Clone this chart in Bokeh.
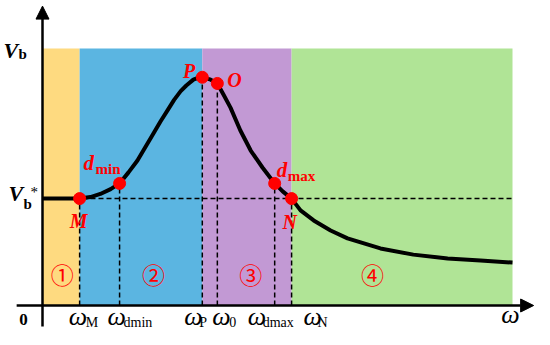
from bokeh.plotting import figure
from bokeh.models import Range1d, Arrow, NormalHead
from bokeh.core.properties import value
from bokeh.embed import file_html
from bokeh.resources import INLINE

# ---------------- data ----------------
curve_w = [0, 7.9, 10.2, 12.3, 14.5, 16.4, 18.3, 20.2, 21.9, 23.6, 25.1, 26.6, 28.0,
           29.4, 30.6, 32.1, 33.2, 34.0, 35.6, 37.2, 38.5, 40.0, 42.1, 44.3, 46.8,
           49.4, 51.1, 53.0, 54.9, 57.7, 61.3, 64.9, 71.9, 78.9, 86.2, 93.2, 100]
curve_v = [41.6, 41.6, 42.2, 43.4, 45.3, 47.5, 51.8, 56.4, 61.7, 66.9, 71.6, 75.9, 80.0,
           83.4, 85.6, 87.9, 88.7, 88.8, 88.0, 86.4, 82.1, 77.0, 68.1, 60.3, 53.7,
           47.5, 44.4, 41.6, 37.0, 33.1, 29.2, 26.1, 22.2, 19.8, 18.3, 17.5, 16.7]

vb_star = 41.6
vb_top = 100
w_end = 100

omega_subs = ["M", "dmin", "P", "0", "dmax", "N"]
omega_vals = [7.9, 16.4, 34.0, 37.2, 49.4, 53.0]

point_names = ["M", "dmin", "P", "O", "dmax", "N"]
point_w = [7.9, 16.4, 34.0, 37.2, 49.4, 53.0]
point_v = [41.6, 47.5, 88.8, 86.4, 47.5, 41.6]

region_names = ["①", "②", "③", "④"]
region_bounds = [0, 7.9, 34.0, 53.0, 100]
region_colors = ["#FEDA80", "#5BB5E1", "#C299D4", "#B0E496"]

# ---------------- layout ----------------
W, H = 534, 329
SX, SY = 4.7, 2.57
x0 = -42 / SX
y1 = 305 / SY
p = figure(width=W, height=H,
           x_range=Range1d(x0, x0 + W / SX), y_range=Range1d(y1 - H / SY, y1),
           output_backend="svg", toolbar_location=None, min_border=0,
           x_axis_type=None, y_axis_type=None)
p.grid.visible = False
p.outline_line_color = None
p.background_fill_color = "white"
p.border_fill_color = "white"

SERIF = "Liberation Serif"
RED = "#FF0000"


def txt(x, y, s, dx, dy, size, style="normal", color="black", align="left",
        font=SERIF, baseline="alphabetic"):
    px = float(size.replace("px", ""))
    if baseline == "alphabetic":
        dy = dy - 0.25 * px  # compensate rendered baseline offset
    p.text(x=[x], y=[y], text=[s], x_offset=dx, y_offset=dy,
           text_font=value(font), text_font_size=size, text_font_style=style,
           text_color=color, text_align=align, text_baseline=baseline)


# regions
p.quad(left=region_bounds[:-1], right=region_bounds[1:], bottom=0, top=vb_top,
       fill_color=region_colors, line_color=None)

# dashed guides
p.line([0, w_end], [vb_star, vb_star], line_dash="5 3", line_color="black", line_width=1.5)
p.segment(x0=point_w, y0=[0] * len(point_w), x1=point_w, y1=point_v,
          line_dash="5 3", line_color="black", line_width=1.5)

# curve
p.line(curve_w, curve_v, line_color="black", line_width=4, line_join="round")

# points
p.scatter(point_w, point_v, size=12, fill_color=RED, line_color=RED)

# axes with arrows
head = dict(size=13, fill_color="black", line_color="black")
p.add_layout(Arrow(end=NormalHead(**head), x_start=-5.5, y_start=0, x_end=104.5, y_end=0,
                   line_width=2.5, line_color="black"))
p.add_layout(Arrow(end=NormalHead(**head), x_start=0, y_start=-8.2, x_end=0, y_end=116.5,
                   line_width=2.5, line_color="black"))

# point labels
pt_layout = {
    "M": [("M", -1, 27, "20px", "bold italic", "center")],
    "dmin": [("d", -36, -15, "21px", "bold italic", "left"), ("min", -24, -11, "15px", "bold", "left")],
    "P": [("P", -7, -1, "20px", "bold italic", "right")],
    "O": [("O", 10, 2, "20px", "bold italic", "left")],
    "dmax": [("d", 2, -8, "21px", "bold italic", "left"), ("max", 13, -4, "15px", "bold", "left")],
    "N": [("N", -2, 28, "20px", "bold italic", "center")],
}
for name, w, v in zip(point_names, point_w, point_v):
    for s, dx, dy, size, style, align in pt_layout[name]:
        txt(w, v, s, dx, dy, size, style, RED, align)

# omega tick labels
omega_dx = [-11, -12, -18, -5, -27, 12]
omega_sub_dx = [17, 16, 15, 17, 15, 14]
for sub, w, dx, sdx in zip(omega_subs, omega_vals, omega_dx, omega_sub_dx):
    txt(w, 0, "ω", dx, 17, "26px", "italic")
    txt(w, 0, sub, dx + sdx, 20, "14px", "normal")
txt(w_end, 0, "ω", -2, 15, "26px", "italic", align="center")
txt(0, 0, "0", -19, 18, "17px", "bold", align="center")

# V labels
txt(0, vb_top, "V", -39, 7, "22px", "bold italic")
txt(0, vb_top, "b", -24, 9, "15px", "bold")
txt(0, vb_star, "V", -34, 0, "22px", "bold italic")
txt(0, vb_star, "b", -19, 9, "15px", "bold")
txt(0, vb_star, "*", -12, -3, "15px", "normal")

# region numbers
region_label_x = [4.2, 23.6, 44.3, 70.2]
for s, x in zip(region_names, region_label_x):
    txt(x, 12.45, s, 0, 0, "23px", "normal", RED, "center", "Noto Sans CJK SC", "middle")

open("out.html", "w").write(file_html(p, INLINE))
